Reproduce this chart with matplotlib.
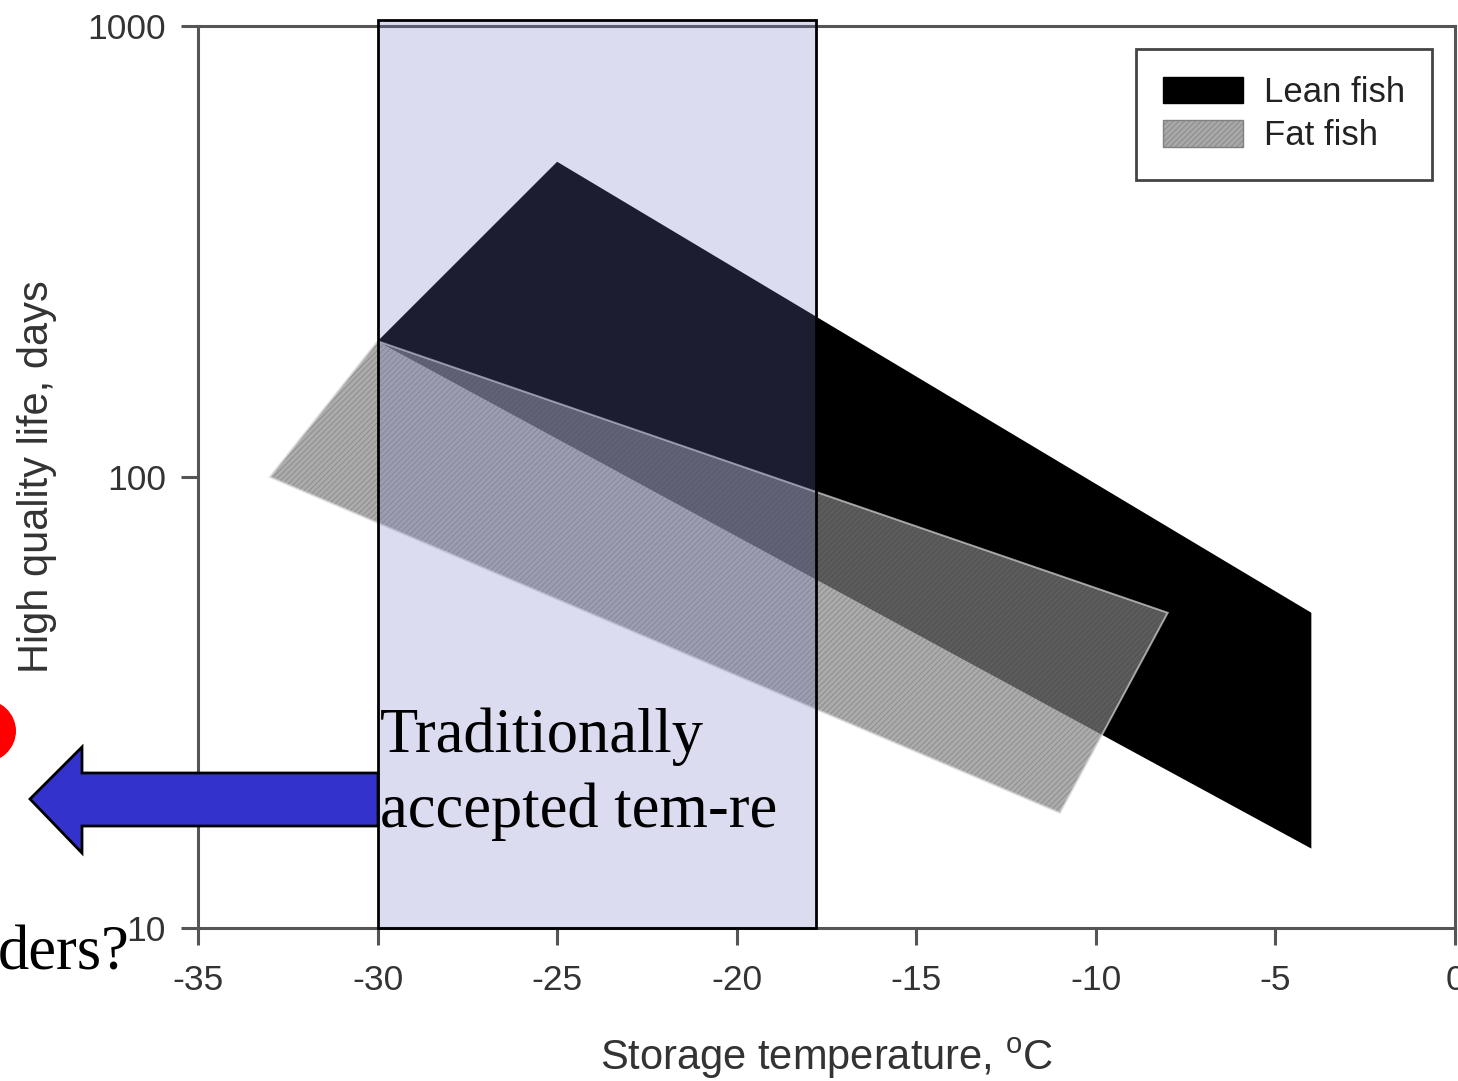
import matplotlib
matplotlib.use('Agg')
import matplotlib.pyplot as plt
from matplotlib.patches import Polygon, Rectangle, Ellipse, Patch
import matplotlib.transforms as mtransforms
from matplotlib.ticker import FixedLocator, NullLocator, FixedFormatter

W, H = 1458, 1081
DPI = 100

# ---- data ----
lean_temp = [-30, -25, -4, -4]
lean_life = [200, 500, 50, 15]
fat_temp = [-30, -8, -11, -33]
fat_life = [200, 50, 18, 100]
band_temp = [-30, -17.8]
band_life = [10, 1030]
x_ticks = [-35, -30, -25, -20, -15, -10, -5, 0]
x_tick_labels = ['-35', '-30', '-25', '-20', '-15', '-10', '-5', '0']
y_ticks = [10, 100, 1000]
y_tick_labels = ['10', '100', '1000']
series_labels = ['Lean fish', 'Fat fish']

SANS = 'Liberation Sans'
SERIF = 'Liberation Serif'

fig = plt.figure(figsize=(W / DPI, H / DPI), dpi=DPI)
ax = fig.add_axes([198 / W, 1 - 928 / H, (1455 - 198) / W, (928 - 26) / H])
ax.set_yscale('log')
ax.set_xlim(-35, 0)
ax.set_ylim(10, 1000)

# pixel transform (origin top-left)
px = mtransforms.Affine2D().scale(1 / W, -1 / H).translate(0, 1) + fig.transFigure

# Lean fish polygon
lean = Polygon(list(zip(lean_temp, lean_life)), closed=True,
               facecolor='black', edgecolor='none', zorder=2)
ax.add_patch(lean)

# Fat fish polygon (semi transparent, finely hatched)
plt.rcParams['hatch.linewidth'] = 0.5
fat_fill = Polygon(list(zip(fat_temp, fat_life)), closed=True,
                   facecolor=(0.51, 0.51, 0.51, 0.67),
                   edgecolor=(0.44, 0.44, 0.44, 0.67),
                   linewidth=0, hatch='//////', zorder=3)
ax.add_patch(fat_fill)
fat_edge = Polygon(list(zip(fat_temp, fat_life)), closed=True,
                   facecolor='none', edgecolor=(0.85, 0.85, 0.85, 0.7),
                   linewidth=1.4, zorder=3.5)
ax.add_patch(fat_edge)

# Blue arrow (annotation, figure pixels)
arrow_pts = [(378, 773), (82, 773), (82, 747), (30, 799), (82, 853), (82, 826), (378, 826)]
arrow = Polygon(arrow_pts, closed=True, transform=px, facecolor='#3333cc',
                edgecolor='black', linewidth=2, clip_on=False, zorder=4)
fig.add_artist(arrow)

# Traditionally accepted temperature band
band = Rectangle((band_temp[0], band_life[0]), band_temp[1] - band_temp[0],
                 band_life[1] - band_life[0],
                 facecolor=(118 / 255, 118 / 255, 200 / 255, 0.25),
                 edgecolor='black', linewidth=2, clip_on=False, zorder=5)
ax.add_patch(band)

# Red blob at left edge
blob = Ellipse((-18, 731), 68, 64, transform=px, facecolor='#ff0000',
               edgecolor='none', clip_on=False, zorder=6)
fig.add_artist(blob)

# Annotation texts
fig.text(380 / W, 1 - 752 / H, 'Traditionally', family=SERIF, fontsize=45,
         ha='left', va='baseline', color='black', zorder=7)
fig.text(380 / W, 1 - 827 / H, 'accepted tem-re', family=SERIF, fontsize=45,
         ha='left', va='baseline', color='black', zorder=7)
fig.text(130 / W, 1 - 969 / H, 'ders?', family=SERIF, fontsize=45,
         ha='right', va='baseline', color='black', zorder=7)

# Axes styling
for s in ax.spines.values():
    s.set_color('#555555')
    s.set_linewidth(2.2)
ax.xaxis.set_major_locator(FixedLocator(x_ticks))
ax.xaxis.set_major_formatter(FixedFormatter(x_tick_labels))
ax.yaxis.set_major_locator(FixedLocator(y_ticks))
ax.yaxis.set_major_formatter(FixedFormatter(y_tick_labels))
ax.yaxis.set_minor_locator(NullLocator())
ax.xaxis.set_minor_locator(NullLocator())
ax.tick_params(axis='both', direction='out', length=12, width=2.2,
               color='#555555', labelcolor='#333333', labelsize=25.5)
ax.tick_params(axis='x', pad=14)
ax.tick_params(axis='y', pad=11)
for lab in ax.get_xticklabels() + ax.get_yticklabels():
    lab.set_family(SANS)
    lab.set_clip_on(False)

ax.set_xlabel('Storage temperature, $^{\\mathregular{o}}$C', family=SANS,
              fontsize=30, color='#333333', va='center')
ax.xaxis.set_label_coords(0.5, (928 - 1058) / 902)
ax.set_ylabel('High quality life, days', family=SANS, fontsize=30,
              color='#333333', va='center')
ax.yaxis.set_label_coords((37 - 198) / 1257, 0.5)

# Legend
handles = [Patch(facecolor='black', edgecolor='black'),
           Patch(facecolor='#a8a8a8', edgecolor='#808080', hatch='//////')]
leg = ax.legend(handles, series_labels, loc='upper right',
                bbox_to_anchor=(1, 1), borderaxespad=0.66,
                prop={'family': SANS, 'size': 25}, frameon=True,
                fancybox=False, framealpha=1, edgecolor='#444444',
                handlelength=2.3, handleheight=0.8, handletextpad=0.6,
                labelspacing=0.3, borderpad=0.78)
leg.get_frame().set_linewidth(2)
for t in leg.get_texts():
    t.set_color('#222222')
leg.set_zorder(8)

fig.savefig('out.png', dpi=DPI)
